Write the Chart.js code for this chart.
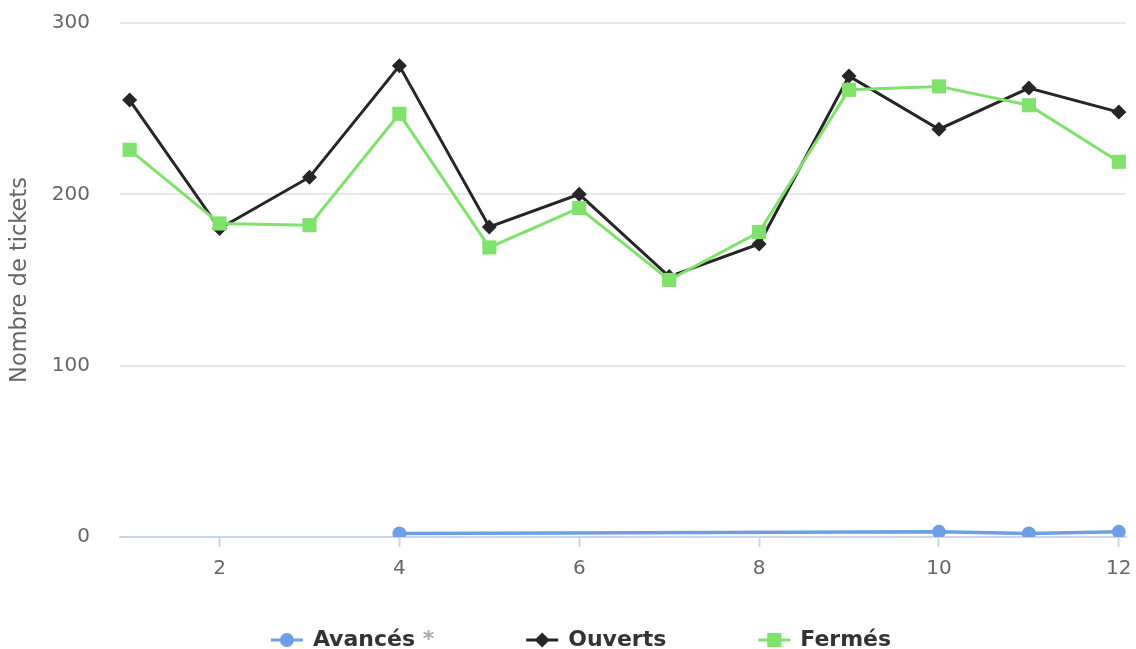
<!DOCTYPE html>
<html><head><meta charset="utf-8">
<script src="https://cdn.jsdelivr.net/npm/chart.js@4.4.1/dist/chart.umd.min.js"></script>
<style>html,body{margin:0;padding:0;background:#fff;} #wrap{width:1136px;height:649px;}</style>
</head><body><div id="wrap"><canvas id="c" width="1136" height="649"></canvas></div>
<script>
// ---- data ----
const months = [1,2,3,4,5,6,7,8,9,10,11,12];
const ouverts = [255,180,210,275,181,200,152,171,269,238,262,248];
const fermes  = [226,183,182,247,169,192,150,178,261,263,252,219];
const avancesX = [4,10,11,12];
const avancesY = [2,3,2,3];
const xTicks = [2,4,6,8,10,12];
const yTicks = [0,100,200,300];
const seriesNames = ['Avancés', 'Ouverts', 'Fermés'];
const avancesSuffix = ' *';
const yTitle = 'Nombre de tickets';

// ---- styles ----
const FONT = "'DejaVu Sans', sans-serif";
const colors = ['#6c9fe4', '#262628', '#80e26c'];
const shapes = ['circle', 'rectRot', 'rect'];
const radii = [7, 7.5, 10];

const legendPlugin = {
  id: 'hcLegend',
  afterDraw(chart) {
    const ctx = chart.ctx;
    ctx.save();
    ctx.font = 'bold 22px ' + FONT;
    ctx.textBaseline = 'middle';
    const symW = 32, gap = 10, dist = 92;
    const texts = [seriesNames[0] + avancesSuffix, seriesNames[1], seriesNames[2]];
    const widths = texts.map(t => ctx.measureText(t).width);
    const total = widths.reduce((a,b)=>a+b,0) + 3*(symW+gap) + 2*dist;
    let x = 581 - total/2;
    const y = 640;
    for (let i = 0; i < 3; i++) {
      ctx.strokeStyle = colors[i];
      ctx.lineWidth = 3;
      ctx.beginPath(); ctx.moveTo(x, y); ctx.lineTo(x + symW, y); ctx.stroke();
      ctx.fillStyle = colors[i];
      ctx.beginPath();
      Chart.helpers.drawPoint(ctx, {pointStyle: shapes[i], radius: radii[i], rotation: 0, borderWidth: 0}, x + symW/2, y);
      x += symW + gap;
      if (i === 0) {
        ctx.fillStyle = '#333';
        ctx.fillText(seriesNames[0], x, y);
        const w0 = ctx.measureText(seriesNames[0]).width;
        ctx.fillStyle = '#aaa';
        ctx.fillText(avancesSuffix, x + w0, y);
      } else {
        ctx.fillStyle = '#333';
        ctx.fillText(texts[i], x, y);
      }
      x += widths[i] + dist;
    }
    ctx.restore();
  }
};

new Chart(document.getElementById('c'), {
  type: 'line',
  data: {
    datasets: [
      {
        label: seriesNames[0],
        data: avancesX.map((x, i) => ({x, y: avancesY[i]})),
        borderColor: colors[0], backgroundColor: colors[0],
        borderWidth: 3.5, pointStyle: shapes[0], pointRadius: radii[0],
        pointBorderWidth: 0, order: 2, tension: 0
      },
      {
        label: seriesNames[1],
        data: months.map((x, i) => ({x, y: ouverts[i]})),
        borderColor: colors[1], backgroundColor: colors[1],
        borderWidth: 3, pointStyle: shapes[1], pointRadius: radii[1],
        pointBorderWidth: 0, order: 1, tension: 0
      },
      {
        label: seriesNames[2],
        data: months.map((x, i) => ({x, y: fermes[i]})),
        borderColor: colors[2], backgroundColor: colors[2],
        borderWidth: 3, pointStyle: shapes[2], pointRadius: radii[2],
        pointBorderWidth: 0, order: 0, tension: 0
      }
    ]
  },
  options: {
    responsive: false,
    devicePixelRatio: 1,
    animation: false,
    events: [],
    layout: { padding: { top: 23, right: 6, left: 0, bottom: 47 } },
    plugins: { legend: { display: false }, tooltip: { enabled: false } },
    scales: {
      x: {
        type: 'linear',
        min: 0.893, max: 12.08,
        afterBuildTicks: s => { s.ticks = xTicks.map(v => ({value: v})); },
        afterFit: s => { s.height = 65; s.paddingLeft = 0; s.paddingRight = 0; },
        ticks: { color: '#666', font: { family: FONT, size: 20 }, padding: 10, maxRotation: 0,
                 callback: v => String(v) },
        grid: { drawOnChartArea: false, drawTicks: true, tickLength: 10, tickColor: '#ccd6eb', tickWidth: 2 },
        border: { display: true, color: '#ccd6eb', width: 2 }
      },
      y: {
        min: 0, max: 300,
        afterBuildTicks: s => { s.ticks = yTicks.map(v => ({value: v})); },
        afterFit: s => { s.width = 120; s.paddingTop = 0; s.paddingBottom = 0; },
        ticks: { color: '#666', font: { family: FONT, size: 20 }, padding: 30,
                 callback: v => String(v) },
        grid: { color: '#e8e8e8', lineWidth: 2, drawTicks: false },
        border: { display: false },
        title: { display: true, text: yTitle, color: '#666', font: { family: FONT, size: 22.5 },
                 padding: { top: 7, bottom: 0 } }
      }
    }
  },
  plugins: [legendPlugin]
});
</script>
</body></html>
